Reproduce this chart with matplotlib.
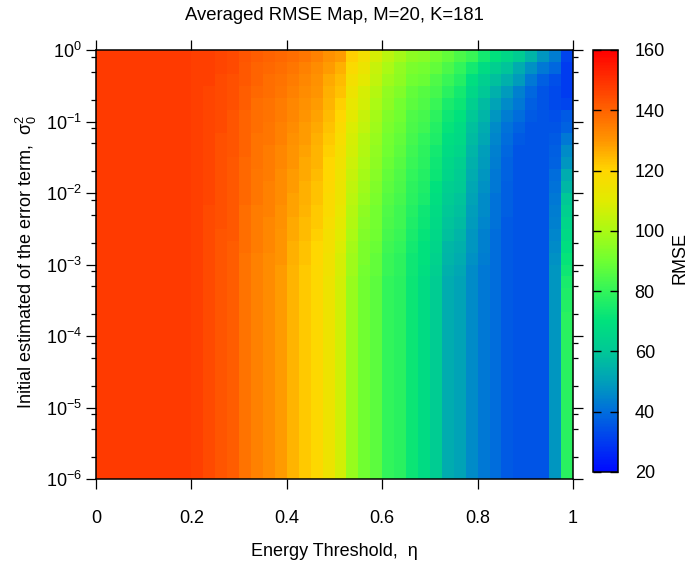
import matplotlib
matplotlib.use("Agg")
import matplotlib.pyplot as plt
import numpy as np
from matplotlib.colors import LinearSegmentedColormap
from matplotlib.ticker import LogLocator, FixedLocator, FixedFormatter, NullFormatter

plt.rcParams['font.family'] = ['Liberation Sans', 'DejaVu Sans']
plt.rcParams['mathtext.fontset'] = 'custom'
plt.rcParams['mathtext.rm'] = 'Liberation Sans'
plt.rcParams['mathtext.it'] = 'Liberation Sans:italic'
plt.rcParams['mathtext.bf'] = 'Liberation Sans:bold'

# grid edges: energy threshold (x) and log10 of sigma_0^2 (y)
eta_edges = [0.0, 0.025, 0.05, 0.075, 0.1, 0.125, 0.15, 0.175, 0.2, 0.225,
             0.25, 0.275, 0.3, 0.325, 0.35, 0.375, 0.4, 0.425, 0.45, 0.475,
             0.5, 0.525, 0.55, 0.575, 0.6, 0.625, 0.65, 0.675, 0.7, 0.725,
             0.75, 0.775, 0.8, 0.825, 0.85, 0.875, 0.9, 0.925, 0.95, 0.975, 1.0]
log_sigma_edges = [-6.0, -5.8333, -5.6667, -5.5, -5.3333, -5.1667,
                   -5.0, -4.8333, -4.6667, -4.5, -4.3333, -4.1667,
                   -4.0, -3.8333, -3.6667, -3.5, -3.3333, -3.1667,
                   -3.0, -2.8333, -2.6667, -2.5, -2.3333, -2.1667,
                   -2.0, -1.8333, -1.6667, -1.5, -1.3333, -1.1667,
                   -1.0, -0.8333, -0.6667, -0.5, -0.3333, -0.1667, 0.0]

# averaged RMSE, rows listed from sigma_0^2 = 1 downwards
rmse_upper = [
    [148, 148, 148, 148, 148, 148, 148, 148, 147, 147, 146, 145, 143, 141, 140, 139, 138, 136, 134, 131,
     129, 121, 116, 108, 103, 99, 95, 94, 91, 88, 84, 81, 74, 70, 66, 62, 55, 48, 43, 32],
    [148, 148, 148, 148, 148, 148, 148, 148, 147, 147, 146, 145, 142, 140, 139, 138, 136, 134, 132, 129,
     126, 118, 113, 105, 100, 96, 92, 91, 88, 84, 80, 74, 68, 63, 59, 53, 47, 42, 39, 30],
    [148, 148, 148, 148, 148, 148, 148, 148, 147, 147, 145, 144, 142, 140, 138, 137, 135, 133, 131, 127,
     124, 116, 111, 104, 98, 95, 90, 89, 85, 81, 77, 69, 63, 58, 54, 49, 42, 37, 34, 30],
    [148, 148, 148, 148, 148, 148, 148, 148, 147, 146, 145, 144, 141, 139, 138, 136, 134, 132, 130, 126,
     123, 114, 108, 102, 96, 93, 88, 86, 83, 78, 74, 66, 60, 54, 49, 44, 39, 35, 33, 30],
    [148, 148, 148, 148, 148, 148, 148, 148, 147, 146, 145, 144, 141, 138, 137, 135, 133, 131, 129, 125,
     121, 112, 107, 100, 95, 91, 87, 85, 81, 75, 72, 63, 57, 51, 46, 42, 37, 35, 33, 32],
    [148, 148, 148, 148, 148, 148, 148, 148, 147, 146, 145, 143, 140, 138, 137, 135, 133, 130, 128, 124,
     120, 111, 105, 99, 93, 90, 85, 83, 79, 73, 70, 60, 55, 48, 43, 40, 36, 35, 34, 36],
    [148, 148, 148, 148, 148, 148, 148, 148, 147, 146, 145, 143, 140, 138, 136, 134, 132, 129, 127, 123,
     118, 109, 104, 98, 92, 89, 84, 82, 77, 71, 68, 58, 53, 46, 41, 38, 35, 35, 35, 38],
    [148, 148, 148, 148, 148, 148, 148, 148, 147, 146, 144, 143, 140, 137, 136, 134, 131, 129, 126, 122,
     117, 108, 102, 97, 91, 88, 83, 80, 76, 69, 67, 57, 52, 45, 40, 36, 35, 35, 36, 42],
    [148, 148, 148, 148, 148, 148, 148, 148, 147, 146, 144, 143, 140, 137, 135, 133, 130, 128, 125, 121,
     116, 107, 101, 96, 90, 87, 82, 79, 74, 68, 65, 55, 50, 44, 39, 35, 35, 35, 37, 46],
    [148, 148, 148, 148, 148, 148, 148, 148, 147, 146, 144, 142, 139, 137, 135, 133, 130, 127, 125, 120,
     115, 106, 100, 95, 89, 86, 81, 78, 73, 66, 63, 54, 49, 43, 38, 35, 35, 35, 38, 48],
    [148, 148, 148, 148, 148, 148, 148, 148, 147, 146, 144, 142, 139, 136, 135, 132, 129, 127, 124, 120,
     114, 105, 99, 94, 88, 85, 80, 77, 72, 65, 62, 53, 48, 42, 38, 35, 35, 35, 40, 53],
    [148, 148, 148, 148, 148, 148, 148, 148, 147, 146, 144, 142, 139, 136, 134, 132, 129, 126, 123, 119,
     113, 104, 98, 93, 87, 84, 79, 76, 70, 63, 61, 52, 47, 42, 37, 35, 35, 35, 41, 56],
    [148, 148, 148, 148, 148, 148, 148, 148, 147, 146, 144, 142, 139, 136, 134, 132, 128, 126, 123, 118,
     113, 103, 97, 92, 86, 83, 78, 75, 69, 62, 59, 51, 46, 41, 37, 35, 35, 35, 42, 60],
    [148, 148, 148, 148, 148, 148, 148, 148, 147, 145, 144, 142, 138, 135, 134, 131, 128, 125, 122, 118,
     112, 102, 95, 91, 85, 82, 77, 73, 68, 60, 58, 50, 46, 41, 37, 35, 35, 35, 43, 63],
    [148, 148, 148, 148, 148, 148, 148, 148, 147, 145, 144, 142, 138, 135, 133, 131, 127, 124, 122, 117,
     111, 101, 94, 91, 84, 82, 76, 72, 67, 59, 57, 49, 45, 41, 36, 35, 35, 35, 44, 65],
    [148, 148, 148, 148, 148, 148, 148, 148, 147, 145, 143, 142, 138, 135, 133, 130, 127, 124, 121, 116,
     110, 100, 93, 90, 83, 81, 75, 71, 66, 58, 55, 48, 44, 40, 36, 35, 35, 35, 45, 67],
    [148, 148, 148, 148, 148, 148, 148, 148, 147, 145, 143, 141, 138, 135, 133, 130, 126, 123, 120, 116,
     109, 99, 92, 89, 82, 80, 74, 70, 65, 56, 54, 48, 44, 40, 36, 35, 35, 35, 46, 69],
    [148, 148, 148, 148, 148, 148, 148, 148, 147, 145, 143, 141, 137, 134, 132, 130, 126, 123, 120, 115,
     108, 98, 92, 88, 81, 79, 73, 70, 64, 55, 53, 47, 43, 40, 36, 35, 35, 35, 47, 71],
    [148, 148, 148, 148, 148, 148, 148, 148, 147, 145, 143, 141, 137, 134, 132, 129, 125, 122, 119, 115,
     108, 98, 91, 88, 81, 79, 73, 69, 63, 54, 52, 46, 42, 40, 36, 35, 35, 35, 48, 73],
    [148, 148, 148, 148, 148, 148, 148, 148, 147, 145, 143, 141, 137, 134, 132, 129, 125, 122, 119, 114,
     107, 97, 90, 87, 80, 78, 72, 68, 62, 53, 51, 46, 42, 40, 36, 35, 35, 35, 48, 75],
    [148, 148, 148, 148, 148, 148, 148, 148, 147, 145, 143, 141, 137, 134, 132, 129, 125, 122, 119, 114,
     107, 97, 90, 87, 80, 78, 72, 68, 62, 53, 51, 46, 42, 40, 36, 35, 35, 35, 48, 76],
    [148, 148, 148, 148, 148, 148, 148, 148, 147, 145, 143, 141, 137, 134, 132, 129, 125, 122, 119, 114,
     107, 97, 90, 87, 80, 78, 72, 68, 62, 53, 51, 46, 42, 40, 36, 35, 35, 35, 48, 77],
]
# below ~1e-4 the map no longer changes with sigma_0^2
rmse_lower_row = [148, 148, 148, 148, 148, 148, 148, 148, 147, 145, 143, 141, 137, 134, 132, 129, 125, 122, 119, 114,
                  107, 97, 90, 87, 80, 78, 72, 68, 62, 53, 51, 46, 42, 40, 36, 35, 35, 35, 48, 78]
n_lower_rows = 14

x_ticks = [0, 0.2, 0.4, 0.6, 0.8, 1]
x_ticklabels = ['0', '0.2', '0.4', '0.6', '0.8', '1']
cbar_ticks = [20, 40, 60, 80, 100, 120, 140, 160]

# palette stops (value, colour)
palette = [(20, '#000aff'), (30, '#003cf0'), (40, '#006edc'), (50, '#00a0b9'),
           (60, '#00c896'), (70, '#00e17d'), (80, '#32f55a'), (90, '#6eff32'),
           (100, '#aafa14'), (110, '#e1eb00'), (120, '#ffd700'), (130, '#ff9600'),
           (140, '#ff6400'), (150, '#ff3200'), (160, '#ff0000')]
vmin, vmax = 20, 160
cmap = LinearSegmentedColormap.from_list(
    'rmse', [((v - vmin) / (vmax - vmin), c) for v, c in palette])

# stack rows bottom-up so they line up with the ascending y edges
grid = np.array([rmse_lower_row] * n_lower_rows + rmse_upper[::-1])
y_edges = 10.0 ** np.array(log_sigma_edges)

W, H = 687, 568
fig = plt.figure(figsize=(W / 100, H / 100), dpi=100)
ax = fig.add_axes([96 / W, 1 - 479 / H, 477 / W, 429 / H])
cax = fig.add_axes([593 / W, 1 - 472 / H, 25 / W, 422 / H])

mesh = ax.pcolormesh(eta_edges, y_edges, grid, cmap=cmap, vmin=vmin, vmax=vmax,
                     shading='flat', edgecolors='none')
ax.set_yscale('log')
ax.set_xlim(0, 1)
ax.set_ylim(1e-6, 1)

ax.xaxis.set_major_locator(FixedLocator(x_ticks))
ax.xaxis.set_major_formatter(FixedFormatter(x_ticklabels))
ax.yaxis.set_major_locator(LogLocator(base=10, numticks=10))
ax.yaxis.set_minor_locator(LogLocator(base=10, subs=(2.0, 5.0, 8.0), numticks=10))
ax.yaxis.set_minor_formatter(NullFormatter())

ax.tick_params(which='both', direction='out', top=True, right=True,
               labelsize=13, colors='black', width=0.9)
ax.tick_params(which='major', length=7)
ax.tick_params(which='minor', length=3.5)
ax.tick_params(axis='x', pad=15)
ax.tick_params(axis='y', pad=3)
for s in ax.spines.values():
    s.set_linewidth(1.1)

cb = fig.colorbar(mesh, cax=cax, ticks=cbar_ticks)
cb.outline.set_linewidth(1.1)
cax.tick_params(direction='in', left=True, right=True, length=6, width=1.0,
                labelsize=13, pad=12)

fig.text(334.5 / W, 1 - 15 / H, 'Averaged RMSE Map, M=20, K=181',
         ha='center', va='center', fontsize=13.3)
fig.text(334.5 / W, 1 - 551 / H, 'Energy Threshold,  \u03b7',
         ha='center', va='center', fontsize=13)
fig.text(26 / W, 1 - 262 / H, 'Initial estimated of the error term,  \u03c3$_0^2$',
         ha='center', va='center', rotation=90, fontsize=13)
fig.text(680 / W, 1 - 258 / H, 'RMSE', ha='center', va='center',
         rotation=90, fontsize=13)

fig.savefig('out.png', dpi=100)
